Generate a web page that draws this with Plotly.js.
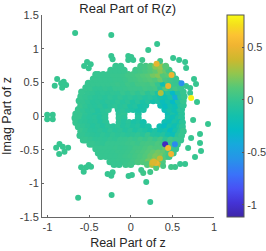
<!DOCTYPE html>
<html><head><meta charset="utf-8">
<script src="https://cdn.plot.ly/plotly-3.0.1.min.js"></script>
<style>html,body{margin:0;padding:0;background:#fff}#c{width:266px;height:251px}</style>
</head><body><div id="c"></div>
<script>
const rowY=[.03,-.03,.095,-.095,.16,-.16,.225,-.225,.29,-.29,.355,-.355,.42,-.42,.485,-.485,.55,-.55,.615,-.60,.68,-.68,.74,-.72];
const rowX=[
[-.66,-.60,-.54,-.48,-.42,-.36,-.31,-.14,-.08,.09,.45,.51,.57,.61],
[-.67,-.61,-.55,-.49,-.43,-.37,-.31,-.14,-.08,.09,.45,.51,.57,.61],
[-.63,-.57,-.51,-.45,-.39,-.33,-.27,-.15,-.09,-.03,.03,.09,.15,.41,.47,.53,.59,.61],
[-.66,-.60,-.54,-.48,-.42,-.36,-.30,-.14,-.08,-.02,.04,.10,.15,.41,.47,.53,.59,.62],
[-.60,-.54,-.48,-.42,-.36,-.30,-.24,-.18,-.12,-.06,0,.06,.12,.18,.36,.42,.48,.54,.60,.63],
[-.63,-.57,-.51,-.45,-.39,-.33,-.27,-.21,-.15,-.09,-.03,.03,.09,.15,.21,.35,.41,.47,.53,.59,.62],
[-.62,-.57,-.51,-.45,-.39,-.33,-.27,-.21,-.15,-.09,-.03,.03,.09,.15,.21,.27,.33,.39,.45,.51,.57,.63],
[-.60,-.54,-.48,-.42,-.36,-.30,-.24,-.18,-.12,-.06,0,.06,.12,.18,.24,.30,.36,.42,.48,.54,.60,.63],
[-.60,-.54,-.48,-.42,-.36,-.30,-.24,-.18,-.12,-.06,0,.06,.12,.18,.24,.30,.36,.42,.48,.54,.60,.64],
[-.61,-.57,-.51,-.45,-.39,-.33,-.27,-.21,-.15,-.09,-.03,.03,.09,.15,.21,.27,.33,.39,.45,.51,.57,.61],
[-.59,-.51,-.45,-.39,-.33,-.27,-.21,-.15,-.09,-.03,.03,.09,.15,.21,.27,.33,.39,.45,.51,.57,.63],
[-.57,-.54,-.48,-.42,-.36,-.30,-.24,-.18,-.12,-.06,0,.06,.12,.18,.24,.30,.36,.42,.48,.54,.60],
[-.54,-.48,-.42,-.36,-.30,-.24,-.18,-.12,-.06,0,.06,.12,.18,.24,.30,.36,.42,.48,.54,.60],
[-.49,-.45,-.39,-.33,-.27,-.21,-.15,-.09,-.03,.03,.09,.15,.21,.27,.33,.39,.45,.51,.56],
[-.51,-.45,-.39,-.33,-.27,-.21,-.15,-.09,-.03,.03,.09,.15,.21,.27,.33,.39,.45,.51,.57],
[-.42,-.36,-.30,-.24,-.18,-.12,-.06,0,.06,.12,.18,.24,.30,.36,.42,.48,.54],
[-.45,-.42,-.36,-.30,-.24,-.18,-.12,-.06,0,.06,.12,.18,.24,.30,.36,.42,.48,.54],
[-.39,-.33,-.27,-.21,-.15,-.09,-.03,.03,.09,.15,.21,.27,.33,.39,.45,.51],
[-.42,-.39,-.33,-.27,-.21,-.15,-.09,-.03,.03,.09,.15,.21,.27,.33,.39,.45,.50],
[-.36,-.30,-.24,-.18,-.12,-.06,0,.06,.12,.18,.24,.30,.36,.42,.46],
[-.24,-.18,-.12,-.08,.06,.12,.18,.24,.30,.36,.42,.46],
[-.25,-.21,-.15,-.09,-.03,.03,.09,.15,.21,.27,.33,.38],
[-.18,-.12,.12,.18,.24,.30,.36,.42],
[-.20,-.14,-.06,0,.20,.26,.32]
];
const rowC=[
[.0,.0,-.03,-.05,-.08,-.06,-.04,-.05,-.02,-.1,-.22,-.12,-.18,-.05],
[.0,.0,-.04,-.06,-.05,-.08,-.04,-.03,-.05,-.08,-.16,-.2,-.12,-.06],
[.0,-.02,-.05,-.04,-.08,-.05,-.03,-.06,-.04,-.08,-.1,-.14,-.12,-.22,-.14,-.2,-.1,-.05],
[.0,-.03,-.04,-.06,-.05,-.08,-.04,-.04,-.08,-.05,-.12,-.1,-.16,-.18,-.22,-.12,-.16,-.05],
[.0,-.02,-.05,-.06,-.04,-.08,-.05,-.03,-.06,-.04,-.1,-.08,-.14,-.12,-.2,-.26,-.16,-.22,-.08,-.02],
[.0,-.02,-.04,-.07,-.05,-.08,-.04,-.06,-.03,-.08,-.06,-.1,-.08,-.14,-.12,-.2,-.28,-.14,-.2,-.1,-.03],
[.0,-.01,-.03,-.06,-.05,-.07,-.04,-.06,-.03,-.07,-.04,-.1,-.06,-.12,-.08,-.16,-.12,-.24,-.16,-.3,-.1,.0],
[.0,-.02,-.05,-.06,-.04,-.07,-.03,-.06,-.04,-.08,-.05,-.1,-.07,-.1,-.14,-.1,-.18,-.14,-.26,-.14,-.06,.0],
[.0,-.01,-.03,-.05,-.04,-.06,-.03,-.05,-.02,-.05,-.03,-.06,-.04,-.08,-.06,-.1,-.14,-.18,-.12,-.4,-.05,.0],
[.0,-.01,-.03,-.04,-.05,-.03,-.05,-.02,-.04,-.03,-.05,-.04,-.02,-.06,.0,-.08,-.1,-.08,-.16,-.22,-.05,.0],
[.0,-.01,-.02,-.04,-.03,-.04,-.02,-.03,.0,-.02,.01,-.02,.02,-.04,.0,-.12,-.2,-.08,-.3,-.08,.0],
[.0,.0,-.01,-.03,-.02,-.03,-.01,-.02,.0,.0,.02,.0,.03,.01,.04,.0,.05,-.04,.04,.0,.0],
[.0,.0,-.02,-.02,-.01,-.02,.0,.0,.01,.02,.02,.02,.04,.03,.05,-.05,.1,.0,.05,.0],
[.0,.0,-.01,-.02,.0,.0,.0,.01,.02,.03,.02,.05,.06,.05,.08,.03,.0,.04,.0],
[.0,.0,.0,.0,.0,.01,.02,.01,.03,.02,.05,.06,.05,.08,.0,-.2,.03,.01,.0],
[.0,.0,.0,.0,.01,.0,.01,.02,.04,.05,.07,.1,.08,.09,.16,.04,.0],
[.0,.0,.0,.0,.0,.01,.01,.02,.04,.05,.07,.09,.11,.09,.16,.06,.03,.0],
[.0,.0,.0,.0,.01,.01,.02,.04,.06,.08,.11,.14,.18,.14,.06,.02],
[.0,.0,.0,.0,.01,.01,.02,.04,.05,.07,.1,.12,.18,.22,.1,.12,.03],
[.0,.0,.0,.0,.01,.02,.03,.05,.07,.1,.15,.2,.18,.1,.03],
[.0,.0,.0,.01,.03,.05,.07,.1,.14,.22,.16,.05],
[.0,.0,.01,.01,.02,.04,.07,.1,.18,.3,.24,.08],
[.0,.0,.04,.06,.1,.22,.26,.12],
[.0,.0,.02,.03,.1,.3,.38]
];
const dotX=[-.668,-.234,-.234,-.218,-.03,.006,-.03,.03,-.525,-.481,-.56,-.505,-.884,-.805,-.913,-.776,-.836,-.824,-1.072,-1.004,-.937,-1.004,-.937,
-.632,-.23,-.278,-.218,-.234,-.026,.014,-.596,-.533,-.477,-.565,-.505,-.856,-.896,-.817,-.752,-.86,-.796,
.317,.21,.138,.509,.581,.653,.665,.353,.76,.784,.665,.713,.713,.796,.749,.928,
.832,.725,.832,.689,.844,.772,.653,.593,.533,.485,.389,.305,.234,.15,.126,.186,.234,
.725,.31,.49,.61,.45,.36,.413,.449,.485,.305,.35,.26,.53,.28];
const dotY=[1.233,1.204,.892,.842,.892,.877,.832,.832,.802,.768,.743,.709,.55,.51,.45,.461,.486,.42,.019,.019,.019,-.049,-.049,
-1.214,-1.174,-.862,-.837,-.887,-.892,-.877,-.762,-.762,-.753,-.828,-.728,-.416,-.471,-.456,-.471,-.565,-.53,
1.07,.98,.832,.862,.832,.802,.713,.817,.55,.475,.446,.416,.342,.208,-.059,-.119,
-.267,-.327,-.401,-.475,-.52,-.609,-.713,-.713,-.758,-.758,-.743,-.773,-.832,-.847,-.802,-.981,-1.278,
.267,.775,.609,.485,.445,.34,-.42,-.475,-.565,-.698,-.63,-.695,-.42,-.68];
const dotC=[0,0,0,0,0,0,0,0,0,0,0,0,0,0,0,0,0,0,0,0,0,0,0,
0,0,0,0,0,0,0,0,0,0,0,0,0,0,0,0,0,0,
0,0,.02,0,0,0,0,.05,0,0,0,0,0,0,0,0,
0,0,0,0,0,0,0,0,.02,.03,.06,.1,.03,.03,.02,0,0,
.78,.48,.5,-.58,.5,.32,-1.05,.55,.52,.5,.36,.42,-.6,.44];
const xTicks=[-1,-.5,0,.5,1], xLabels=["-1","-0.5","0","0.5","1"];
const yTicks=[-1.5,-1,-.5,0,.5,1,1.5], yLabels=["-1.5","-1","-0.5","0","0.5","1","1.5"];
const barTicks=[-1,-.5,0,.5], barLabels=["-1","-0.5","0","0.5"];
const parula=[[0,"#3e26a8"],[.07,"#4433d6"],[.14,"#4851f4"],[.21,"#3a72f9"],[.29,"#2695e8"],[.36,"#17a9dc"],[.43,"#04bbc4"],[.5,"#14c0ac"],[.57,"#30c494"],[.64,"#55c878"],[.71,"#92c64e"],[.78,"#cdb82e"],[.85,"#f0b432"],[.9,"#fcc233"],[.95,"#f5de1d"],[1,"#f9fb15"]];
const x=[],y=[],c=[],s=[];
rowY.forEach((v,i)=>rowX[i].forEach((u,j)=>{x.push(u);y.push(v);c.push(rowC[i][j]);s.push(7);}));
dotX.forEach((u,i)=>{x.push(u);y.push(dotY[i]);c.push(dotC[i]);s.push(6);});
const font={family:'"Liberation Sans",Arial,sans-serif',size:11,color:"#404040"};
const tfont={family:font.family,size:12.5,color:"#262626"};
const axis={showgrid:false,zeroline:false,showline:true,linecolor:"#666",linewidth:1,ticks:"inside",ticklen:2,tickcolor:"#666",tickwidth:1,tickfont:font};
Plotly.newPlot("c",[{type:"scatter",mode:"markers",x:x,y:y,cliponaxis:false,
 marker:{size:s,opacity:1,color:c,coloraxis:"coloraxis",line:{width:0}}}],{
 width:266,height:251,paper_bgcolor:"#fff",plot_bgcolor:"#fff",showlegend:false,
 margin:{l:41.5,r:52,t:15,b:34,autoexpand:false},font:font,
 title:{text:"Real Part of R(z)",font:{family:font.family,size:13,color:"#262626"},x:.48,xanchor:"center",y:.985,yanchor:"top",pad:{t:0}},
 xaxis:Object.assign({},axis,{range:[-1.066,1],tickvals:xTicks,ticktext:xLabels,title:{text:"Real Part of z",font:tfont,standoff:6}}),
 yaxis:Object.assign({},axis,{range:[-1.5,1.5],tickvals:yTicks,ticktext:yLabels,title:{text:"Imag Part of z",font:tfont,standoff:8}}),
 coloraxis:{cmin:-1.115,cmax:.805,colorscale:parula,colorbar:{xref:"paper",yref:"paper",x:(227-41.5)/172.5,xanchor:"left",y:0,yanchor:"bottom",lenmode:"fraction",len:1,thicknessmode:"pixels",thickness:17,xpad:0,ypad:0,outlinecolor:"#555",outlinewidth:1,tickvals:barTicks,ticktext:barLabels,ticks:"inside",ticklen:2,tickcolor:"#555",tickfont:font}}
},{displayModeBar:false,staticPlot:true});
</script></body></html>
